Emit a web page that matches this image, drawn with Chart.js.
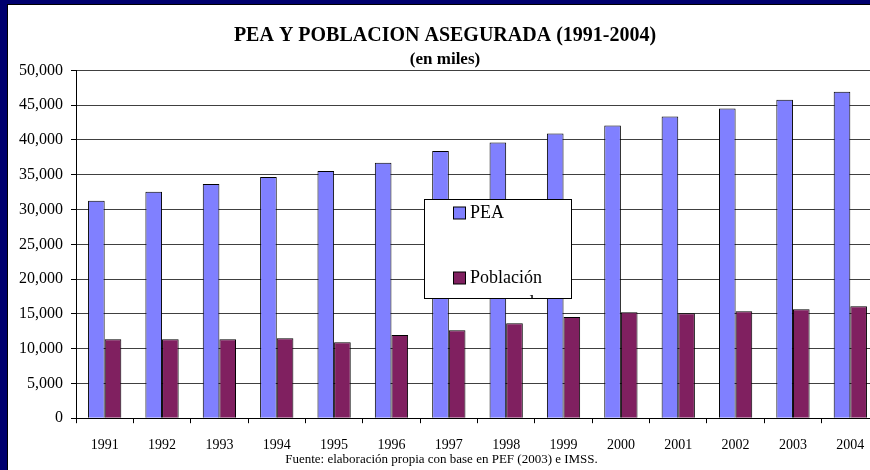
<!DOCTYPE html>
<html>
<head>
<meta charset="utf-8">
<script src="https://cdn.jsdelivr.net/npm/chart.js@4.4.0/dist/chart.umd.min.js"></script>
<style>
html, body { margin:0; padding:0; background:#00006e; width:870px; height:470px; overflow:hidden; }
#wrap { position:absolute; left:7px; top:4px; width:873px; height:466px; background:#fff; border-left:1px solid #000; border-top:1px solid #000; }
</style>
</head>
<body>
<div id="wrap"><canvas id="myChart"></canvas></div>
<script>
// datos (miles de personas)
var years = ['1991','1992','1993','1994','1995','1996','1997','1998','1999','2000','2001','2002','2003','2004'];
var pea = [31270, 32560, 33670, 34680, 35550, 36740, 38430, 39630, 40920, 42070, 43370, 44520, 45780, 46930];
var asegurada = [11340, 11340, 11340, 11480, 10910, 11960, 12640, 13650, 14550, 15230, 15090, 15370, 15660, 16090];
var seriesNames = ['PEA', 'Población asegurada'];
var yMin = 0, yMax = 50000, yStep = 5000;

var serif = "'Liberation Serif', 'Times New Roman', serif";
var colors = ['#8080ff', '#802060'];

// leyenda dentro del area del grafico, como en el original
var boxLegend = {
    id: 'boxLegend',
    afterDraw: function(chart) {
        var ctx = chart.ctx;
        var bx = 416.5, by = 194.5, bw = 147, bh = 99;
        ctx.save();
        ctx.fillStyle = '#fff';
        ctx.fillRect(bx, by, bw, bh);
        ctx.strokeStyle = '#000';
        ctx.lineWidth = 1;
        ctx.strokeRect(bx, by, bw, bh);
        ctx.beginPath();
        ctx.rect(bx + 0.5, by + 0.5, bw - 1, bh - 1);
        ctx.clip();
        ctx.font = '18px ' + serif;
        ctx.textBaseline = 'middle';
        var rows = [208, 273];
        chart.data.datasets.forEach(function(ds, i) {
            ctx.fillStyle = ds.backgroundColor;
            ctx.fillRect(445.5, rows[i] - 6, 12, 12);
            ctx.strokeStyle = '#000';
            ctx.strokeRect(445.5, rows[i] - 6, 12, 12);
            ctx.fillStyle = '#000';
            var words = ds.label.split(' ');
            words.forEach(function(w, j) {
                ctx.fillText(w, 462, rows[i] + j * 25);
            });
        });
        ctx.restore();
    }
};

var footNote = {
    id: 'footNote',
    afterDraw: function(chart) {
        var ctx = chart.ctx;
        ctx.save();
        ctx.font = '13px ' + serif;
        ctx.fillStyle = '#000';
        ctx.textAlign = 'center';
        ctx.textBaseline = 'middle';
        ctx.fillText('Fuente: elaboración propia con base en PEF (2003) e IMSS.', chart.width / 2 - 3, 455);
        ctx.restore();
    }
};

var chartData = {
    labels: years,
    datasets: [
        {
            label: seriesNames[0],
            backgroundColor: colors[0],
            borderColor: '#000',
            borderWidth: 1,
            data: pea
        },
        {
            label: seriesNames[1],
            backgroundColor: colors[1],
            borderColor: '#000',
            borderWidth: 1,
            data: asegurada
        }
    ]
};

var barGraph = new Chart(document.getElementById('myChart'), {
    type: 'bar',
    data: chartData,
    plugins: [boxLegend, footNote],
    options: {
        responsive: true,
        maintainAspectRatio: false,
        devicePixelRatio: 1,
        animation: false,
        datasets: {
            bar: { categoryPercentage: 0.58, barPercentage: 1.0 }
        },
        layout: { padding: { left: 3, right: 2, top: 0, bottom: 3 } },
        plugins: {
            legend: { display: false },
            tooltip: { enabled: false },
            title: {
                display: true,
                text: 'PEA Y POBLACION ASEGURADA (1991-2004)',
                color: '#000',
                font: { family: serif, size: 20, weight: 'bold' },
                padding: { top: 19, bottom: 0 }
            },
            subtitle: {
                display: true,
                text: '(en miles)',
                color: '#000',
                font: { family: serif, size: 17, weight: 'bold' },
                padding: { top: 1, bottom: 1 }
            }
        },
        scales: {
            x: {
                grid: { offset: true, drawOnChartArea: false, drawTicks: true, tickLength: 5, tickColor: '#000' },
                border: { color: '#000' },
                ticks: { color: '#000', font: { family: serif, size: 14 }, padding: 14, maxRotation: 0, autoSkip: false }
            },
            y: {
                min: yMin,
                max: yMax,
                grid: { color: '#404040', tickColor: '#000', tickLength: 5 },
                border: { color: '#000' },
                ticks: {
                    stepSize: yStep,
                    color: '#000',
                    padding: 8,
                    font: { family: serif, size: 16 },
                    callback: function(v) { return v.toLocaleString('en-US'); }
                }
            }
        }
    }
});
</script>
</body>
</html>
